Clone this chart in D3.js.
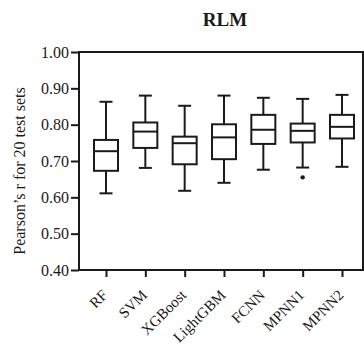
<!DOCTYPE html>
<html>
<head>
<meta charset="utf-8">
<script src="https://cdn.jsdelivr.net/npm/d3@7"></script>
<style>
  html, body { margin: 0; padding: 0; background: #fff; }
  svg text { font-family: "Liberation Serif", "DejaVu Serif", serif; fill: #1a1a1a; }
</style>
</head>
<body>
<svg id="chart" width="364" height="345"></svg>
<script>
// Box-plot statistics for each model (Pearson's r across 20 test sets)
const models   = ["RF", "SVM", "XGBoost", "LightGBM", "FCNN", "MPNN1", "MPNN2"];
const whiskLo  = [0.611, 0.681, 0.618, 0.640, 0.676, 0.682, 0.684];
const q1       = [0.673, 0.736, 0.691, 0.705, 0.747, 0.751, 0.762];
const medians  = [0.727, 0.781, 0.749, 0.765, 0.786, 0.783, 0.794];
const q3       = [0.758, 0.806, 0.767, 0.801, 0.827, 0.803, 0.827];
const whiskHi  = [0.863, 0.880, 0.852, 0.880, 0.874, 0.871, 0.882];
const outliers = [[], [], [], [], [], [0.655], []];
const yTicks   = [0.40, 0.50, 0.60, 0.70, 0.80, 0.90, 1.00];

const ink = "#1a1a1a";
const svg = d3.select("#chart");

const plot = { left: 79, right: 363, top: 52, bottom: 270 };

const x = d3.scalePoint().domain(models).range([106, 342]);
const y = d3.scaleLinear().domain([0.40, 1.00]).range([plot.bottom, plot.top]);

// Title
svg.append("text")
  .attr("x", 225).attr("y", 26)
  .attr("text-anchor", "middle")
  .style("font-size", "19px").style("font-weight", "bold")
  .text("RLM");

// Frame (top and right edges)
svg.append("path")
  .attr("d", `M${plot.left},${plot.top}H${plot.right}V${plot.bottom}`)
  .attr("fill", "none").attr("stroke", ink).attr("stroke-width", 2);

// Y axis
const yAxis = svg.append("g")
  .attr("transform", `translate(${plot.left},0)`)
  .call(d3.axisLeft(y).tickValues(yTicks).tickFormat(d3.format(".2f")).tickSize(8).tickPadding(2));
yAxis.select(".domain").attr("stroke", ink).attr("stroke-width", 2)
  .attr("d", `M0,${plot.bottom + 1}V${plot.top - 1}`);
yAxis.selectAll(".tick line").attr("stroke", ink).attr("stroke-width", 2);
yAxis.selectAll(".tick text").style("font-size", "16px").attr("fill", ink);

// X axis
const xAxis = svg.append("g")
  .attr("transform", `translate(0,${plot.bottom})`)
  .call(d3.axisBottom(x).tickSize(7).tickPadding(4));
xAxis.select(".domain").attr("stroke", ink).attr("stroke-width", 2)
  .attr("d", `M${plot.left - 1},0H${plot.right + 1}`);
xAxis.selectAll(".tick line").attr("stroke", ink).attr("stroke-width", 2);
xAxis.selectAll(".tick text")
  .style("font-size", "15px").attr("fill", ink)
  .attr("text-anchor", "end")
  .attr("x", 0).attr("y", 0).attr("dx", 0).attr("dy", 0)
  .attr("transform", "translate(2,26) rotate(-45)");

// Y axis title
svg.append("text")
  .attr("transform", `translate(25,171) rotate(-90)`)
  .attr("text-anchor", "middle")
  .style("font-size", "16px")
  .text("Pearson\u2019s r for 20 test sets");

// Boxes
const boxW = 24, capW = 13;
const g = svg.append("g").attr("stroke", ink).attr("stroke-width", 2).attr("fill", "none");
models.forEach((m, i) => {
  const cx = x(m);
  // whiskers
  g.append("line").attr("x1", cx).attr("x2", cx).attr("y1", y(whiskHi[i])).attr("y2", y(q3[i]));
  g.append("line").attr("x1", cx).attr("x2", cx).attr("y1", y(q1[i])).attr("y2", y(whiskLo[i]));
  // caps
  g.append("line").attr("x1", cx - capW / 2).attr("x2", cx + capW / 2).attr("y1", y(whiskHi[i])).attr("y2", y(whiskHi[i]));
  g.append("line").attr("x1", cx - capW / 2).attr("x2", cx + capW / 2).attr("y1", y(whiskLo[i])).attr("y2", y(whiskLo[i]));
  // box
  g.append("rect").attr("x", cx - boxW / 2).attr("width", boxW)
    .attr("y", y(q3[i])).attr("height", y(q1[i]) - y(q3[i]))
    .attr("fill", "#fff");
  // median
  g.append("line").attr("x1", cx - boxW / 2).attr("x2", cx + boxW / 2).attr("y1", y(medians[i])).attr("y2", y(medians[i]));
  // outliers
  outliers[i].forEach(v => {
    svg.append("circle").attr("cx", cx).attr("cy", y(v)).attr("r", 2.2).attr("fill", ink);
  });
});
</script>
</body>
</html>
